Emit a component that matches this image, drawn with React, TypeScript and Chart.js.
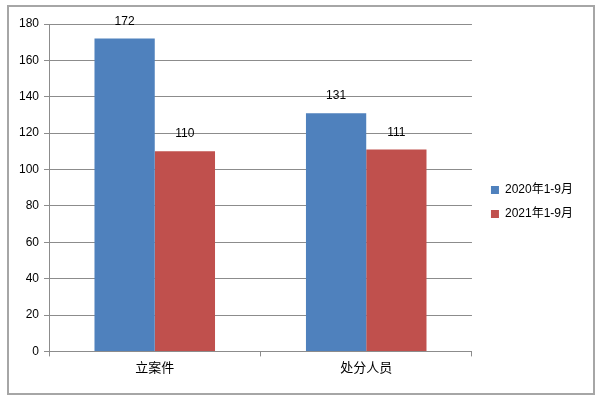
import React, { useEffect, useRef } from "react";
import { Chart, registerables } from "chart.js";

Chart.register(...registerables);

const categories = ["立案件", "处分人员"];
const seriesNames = ["2020年1-9月", "2021年1-9月"];
const values2020 = [172, 131];
const values2021 = [110, 111];
const colors = ["#4F81BD", "#C0504D"];

const FONT = "'Liberation Sans', 'Noto Sans CJK SC', sans-serif";
const LEGEND_GAP = 7;

const valueLabels = {
  id: "valueLabels",
  afterDatasetsDraw(chart: any) {
    const ctx = chart.ctx;
    ctx.save();
    ctx.font = `12px ${FONT}`;
    ctx.fillStyle = "#000";
    ctx.textAlign = "center";
    ctx.textBaseline = "alphabetic";
    chart.data.datasets.forEach((ds: any, i: number) => {
      const meta = chart.getDatasetMeta(i);
      meta.data.forEach((el: any, j: number) => {
        ctx.fillText(String(ds.data[j]), el.x, el.y - 14);
      });
    });
    ctx.restore();
  },
};

const legendGap = {
  id: "legendGap",
  beforeLayout(chart: any) {
    const lg = chart.legend;
    if (lg && !lg._gapPatched) {
      const orig = lg.fit;
      lg.fit = function () {
        orig.call(this);
        this.width += LEGEND_GAP;
      };
      lg._gapPatched = true;
    }
  },
  afterLayout(chart: any) {
    const lg = chart.legend;
    if (lg) {
      lg.left += LEGEND_GAP;
      lg.right += LEGEND_GAP;
    }
  },
};

export default function App() {
  const ref = useRef<HTMLCanvasElement>(null);
  useEffect(() => {
    if (!ref.current) return;
    const chart = new Chart(ref.current, {
      type: "bar",
      data: {
        labels: categories,
        datasets: [
          { label: seriesNames[0], data: values2020, backgroundColor: colors[0], borderWidth: 0 },
          { label: seriesNames[1], data: values2021, backgroundColor: colors[1], borderWidth: 0 },
        ],
      },
      options: {
        animation: false,
        responsive: false,
        maintainAspectRatio: false,
        layout: { padding: { left: 14, top: 24, right: 17, bottom: 20 } },
        datasets: { bar: { categoryPercentage: 0.57, barPercentage: 1 } },
        plugins: {
          legend: {
            position: "right",
            labels: {
              boxWidth: 8,
              boxHeight: 8,
              color: "#000",
              font: { size: 12, family: FONT },
              padding: 12,
            },
          },
          tooltip: { enabled: false },
        },
        scales: {
          x: {
            grid: {
              display: true,
              drawOnChartArea: false,
              tickLength: 5,
              color: "#8c8c8c",
            },
            border: { color: "#8c8c8c", width: 1 },
            ticks: { color: "#000", font: { size: 13, family: FONT }, padding: 4 },
          },
          y: {
            min: 0,
            max: 180,
            ticks: { stepSize: 20, color: "#000", font: { size: 12, family: FONT }, padding: 5 },
            grid: { color: "#8c8c8c", tickLength: 5 },
            border: { color: "#8c8c8c", width: 1 },
          },
        },
      },
      plugins: [valueLabels, legendGap],
    });
    return () => chart.destroy();
  }, []);
  return (
    <div style={{ position: "fixed", left: 0, top: 0, width: 600, height: 400, background: "#fff" }}>
      <canvas ref={ref} width={600} height={400} style={{ position: "absolute", left: 0, top: 0 }} />
      <div
        style={{
          position: "absolute",
          left: 7,
          top: 5,
          width: 584,
          height: 386,
          border: "2px solid #a6a6a6",
          pointerEvents: "none",
        }}
      />
    </div>
  );
}
